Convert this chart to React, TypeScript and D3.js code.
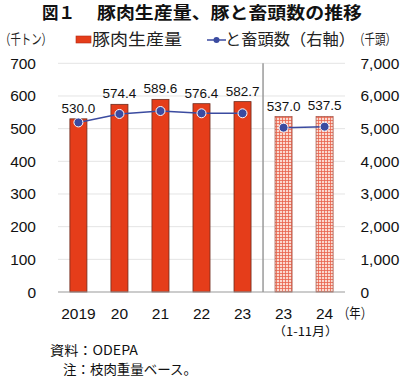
import React from "react";
import * as d3 from "d3";

const categories = ["2019", "20", "21", "22", "23", "23b", "24"];
const xLabels = ["2019", "20", "21", "22", "23", "23", "24"];
const production = [530.0, 574.4, 589.6, 576.4, 582.7, 537.0, 537.5];
const slaughter = [5190, 5450, 5540, 5470, 5470, 5030, 5060];
const partial = [false, false, false, false, false, true, true];
const leftTicks = [0, 100, 200, 300, 400, 500, 600, 700];
const rightTicks = [0, 1000, 2000, 3000, 4000, 5000, 6000, 7000];

const W = 400, H = 378;
const plotL = 58, plotR = 345, plotT = 63.3, plotB = 292;
const NUM = "'Liberation Sans', Arial, sans-serif";
const JP = "'Noto Sans CJK JP', 'Noto Sans', sans-serif";

export default function App() {
  const x = d3.scaleBand().domain(categories).range([plotL, plotR]).paddingInner(0.585).paddingOuter(0.29);
  const yL = d3.scaleLinear().domain([0, 700]).range([plotB, plotT]);
  const yR = d3.scaleLinear().domain([0, 7000]).range([plotB, plotT]);
  const cx = (c: string) => (x(c) as number) + x.bandwidth() / 2;
  const line = d3.line<number>().x((_, i) => cx(categories[i])).y((d) => yR(d));
  const line2 = d3.line<number>().x((_, i) => cx(categories[i + 5])).y((d) => yR(d));
  const sepX = (cx(categories[4]) + cx(categories[5])) / 2;
  const fmt = d3.format(",");

  return (
    <svg width={W} height={H} style={{ position: "absolute", left: 0, top: 0, background: "#fff" }}>
      <defs>
        <pattern id="plaid" width="3" height="3" patternUnits="userSpaceOnUse">
          <rect width="3" height="3" fill="#fbd9cf" />
          <line x1="0.5" y1="0" x2="0.5" y2="3" stroke="#e9634d" strokeWidth="0.8" />
          <line x1="0" y1="0.5" x2="3" y2="0.5" stroke="#e9634d" strokeWidth="0.8" />
        </pattern>
      </defs>
      {/* title */}
      <text x={42} y={19} fontFamily={JP} fontWeight="bold" fontSize={16.5} fill="#111">図１</text>
      <text x={97} y={19} fontFamily={JP} fontWeight="bold" fontSize={16.5} fill="#111" textLength={265} lengthAdjust="spacingAndGlyphs">豚肉生産量、豚と畜頭数の推移</text>
      {/* legend + units */}
      <text x={0} y={44} fontFamily={JP} fontSize={14} fill="#222" textLength={52} lengthAdjust="spacingAndGlyphs">（千トン）</text>
      <rect x={76} y={36} width={15} height={7} fill="#e53d1a" stroke="#b02a14" strokeWidth={0.6} />
      <text x={92} y={45} fontFamily={JP} fontSize={16} fill="#222" textLength={90} lengthAdjust="spacingAndGlyphs">豚肉生産量</text>
      <line x1={207} y1={40} x2={226} y2={40} stroke="#3b4ba0" strokeWidth={1.5} />
      <circle cx={216.5} cy={40} r={3} fill="#3b4ba0" />
      <text x={225} y={45} fontFamily={JP} fontSize={16} fill="#222" textLength={130} lengthAdjust="spacingAndGlyphs">と畜頭数（右軸）</text>
      <text transform="translate(354,44) scale(0.75,1)" x={0} y={0} fontFamily={JP} fontSize={14} fill="#222">（千頭）</text>
      {/* gridlines */}
      {leftTicks.map((t) => (
        t > 0 ? <line key={t} x1={plotL} x2={plotR} y1={yL(t)} y2={yL(t)} stroke="#e4e4e4" strokeWidth={1} /> : null
      ))}
      {/* left ticks */}
      {leftTicks.map((t) => (
        <text key={t} x={36} y={yL(t) + 5.5} textAnchor="end" fontFamily={NUM} fontSize={15.5} fill="#111">{t}</text>
      ))}
      {rightTicks.map((t) => (
        <text key={t} x={360.5} y={yR(t) + 5.5} textAnchor="start" fontFamily={NUM} fontSize={15.5} fill="#111">{fmt(t)}</text>
      ))}
      {/* separator */}
      <line x1={sepX} x2={sepX} y1={plotT} y2={plotB} stroke="#9a9a9a" strokeWidth={1.5} />
      {/* bars */}
      {categories.map((c, i) => (
        <rect key={c} x={x(c)} y={yL(production[i])} width={x.bandwidth()} height={plotB - yL(production[i])}
          fill={partial[i] ? "url(#plaid)" : "#e53d1a"} stroke={partial[i] ? "#a8584a" : "#6e2a1c"} strokeWidth={0.8} />
      ))}
      {/* baseline */}
      <line x1={plotL} x2={plotR} y1={plotB} y2={plotB} stroke="#999" strokeWidth={1.2} />
      {/* bar labels */}
      {categories.map((c, i) => (
        <text key={c} x={cx(c)} y={yL(production[i]) - 6} textAnchor="middle" fontFamily={NUM} fontSize={13.5} fill="#111">{production[i].toFixed(1)}</text>
      ))}
      {/* line */}
      <path d={line(slaughter.slice(0, 5)) || ""} fill="none" stroke="#3b4ba0" strokeWidth={1.5} />
      <path d={line2(slaughter.slice(5)) || ""} fill="none" stroke="#3b4ba0" strokeWidth={1.5} />
      {categories.map((c, i) => (
        <circle key={c} cx={cx(c)} cy={yR(slaughter[i])} r={4.5} fill="#3b4ba0" stroke="#fff" strokeWidth={1} />
      ))}
      {/* x labels */}
      {categories.map((c, i) => (
        <text key={c} x={cx(c)} y={319} textAnchor="middle" fontFamily={NUM} fontSize={15.5} fill="#111">{xLabels[i]}</text>
      ))}
      <text x={273} y={335.5} fontFamily={JP} fontSize={12} fill="#111" textLength={65} lengthAdjust="spacingAndGlyphs">（1-11月）</text>
      <text x={338} y={318} fontFamily={JP} fontSize={14} fill="#111" textLength={34} lengthAdjust="spacingAndGlyphs">（年）</text>
      {/* footnotes */}
      <text x={50} y={355} fontFamily={JP} fontSize={13} fill="#111" textLength={88} lengthAdjust="spacingAndGlyphs">資料：ODEPA</text>
      <text x={63} y={374} fontFamily={JP} fontSize={13} fill="#111" textLength={134} lengthAdjust="spacingAndGlyphs">注：枝肉重量ベース。</text>
    </svg>
  );
}
